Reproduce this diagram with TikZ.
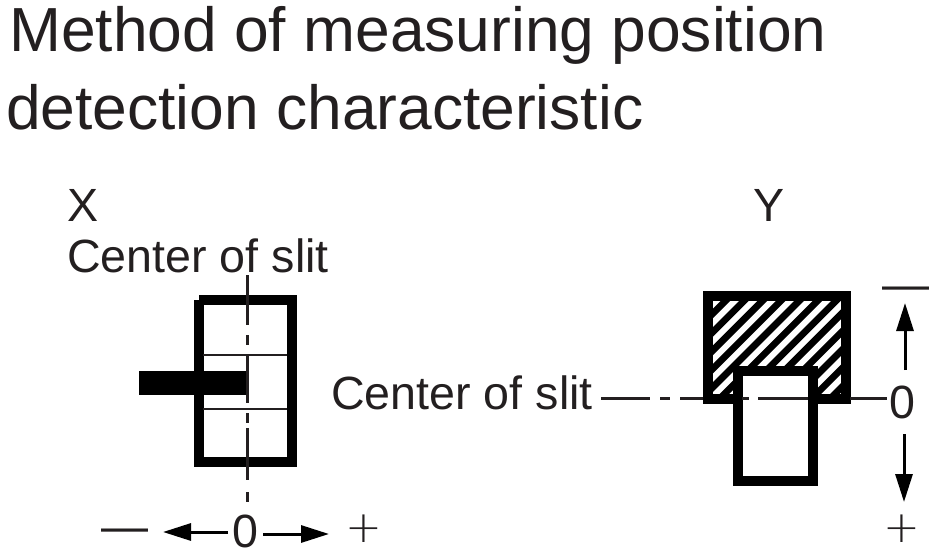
\documentclass[tikz,border=0pt]{standalone}
\usepackage{fontspec}
\setmainfont{Liberation Sans}
\newfontfamily\thinfont{DejaVu Sans ExtraLight}
\usetikzlibrary{arrows.meta}
\definecolor{ink}{HTML}{231F20}
\tikzset{
  title/.style={anchor=base west,inner sep=0pt,text=ink,font=\fontsize{62.3}{62}\selectfont},
  label/.style={anchor=base west,inner sep=0pt,text=ink,font=\fontsize{46.6}{46}\selectfont},
  sym/.style={anchor=center,inner sep=0pt,text=ink,font=\fontsize{47}{47}\selectfont},
  plus/.style={anchor=center,inner sep=0pt,text=ink,font=\thinfont\fontsize{44}{44}\selectfont},
  thick box/.style={draw=black,line width=10pt,fill=white,inner sep=0pt,outer sep=0pt},
  center line/.style={draw=ink,line width=3pt},
  grid line/.style={draw=ink,line width=2.5pt},
  arrow/.style={draw=black,line width=3pt,-{Triangle[length=28pt,width=17pt]}},
  hatch/.style={draw=black,line width=6.8pt}
}
\begin{document}
\begin{tikzpicture}[x=1pt,y=-1pt]
\useasboundingbox (0,0) rectangle (936,556);
% title
\node[title] (t1) at (9,52) {Method of measuring position};
\node[title] (t2) at (6,130) {detection characteristic};
\node[label] (xl) at (67,221) {X};
\node[label] (yl) at (753,221) {Y};
\node[label] (cx) at (67,272) {Center of slit};
\node[label] (cy) at (331,409) {Center of slit};
% X slit
\node[thick box,minimum width=93pt,minimum height=162pt] (xbox) at (245,381) {};
\fill[white] (192,294) rectangle (199,300);
\coordinate (xl1a) at (203,355); \coordinate (xl1b) at (287,355);
\coordinate (xl2a) at (203,409); \coordinate (xl2b) at (287,409);
\draw[grid line] (xl1a) -- (xl1b);
\draw[grid line] (xl2a) -- (xl2b);
\node[fill=black,inner sep=0pt,minimum width=108pt,minimum height=24pt] (xbar) at (193,383) {};
\draw[center line] (247,275) -- (247,325) (247,335) -- (247,345) (247,355) -- (247,403)
  (247,413) -- (247,423) (247,428) -- (247,480) (247,492) -- (247,502);
% X scale
\node[sym] (xminus) at (124.5,536) {—};
\node[label,anchor=center] (xzero) at (245,531) {0};
\node[plus] (xplus) at (364,529) {+};
\coordinate (xL) at (228,532); \coordinate (xLt) at (163,532);
\coordinate (xR) at (263,534); \coordinate (xRt) at (329,534);
\draw[arrow] (xL) -- (xLt);
\draw[arrow] (xR) -- (xRt);
% Y hatched block
\begin{scope}
  \clip (707,296) rectangle (846,399);
  \foreach \k in {-7,...,10}
    \draw[hatch] ({690+\k*18.4},410) -- ({690+\k*18.4+120},290);
\end{scope}
\node[thick box,fill=none,minimum width=138pt,minimum height=103pt] (ybox) at (776.5,347) {};
\draw[center line] (601,398) -- (650,398) (660,398) -- (670,398) (680,398) -- (703,398)
  (850,398) -- (887,398);
\node[thick box,minimum width=75pt,minimum height=110pt] (ysl) at (775,425.5) {};
\draw[center line] (742,398) -- (749,398) (758,398) -- (808,398);
% Y scale
\node[sym] (yminus) at (905.5,294) {—};
\node[label,anchor=center] (yzero) at (902,402) {0};
\node[plus] (yplus) at (902,529) {+};
\coordinate (yU) at (905,370); \coordinate (yUt) at (905,303);
\coordinate (yD) at (904,434); \coordinate (yDt) at (904,502);
\draw[arrow] (yU) -- (yUt);
\draw[arrow] (yD) -- (yDt);
\end{tikzpicture}
\end{document}
